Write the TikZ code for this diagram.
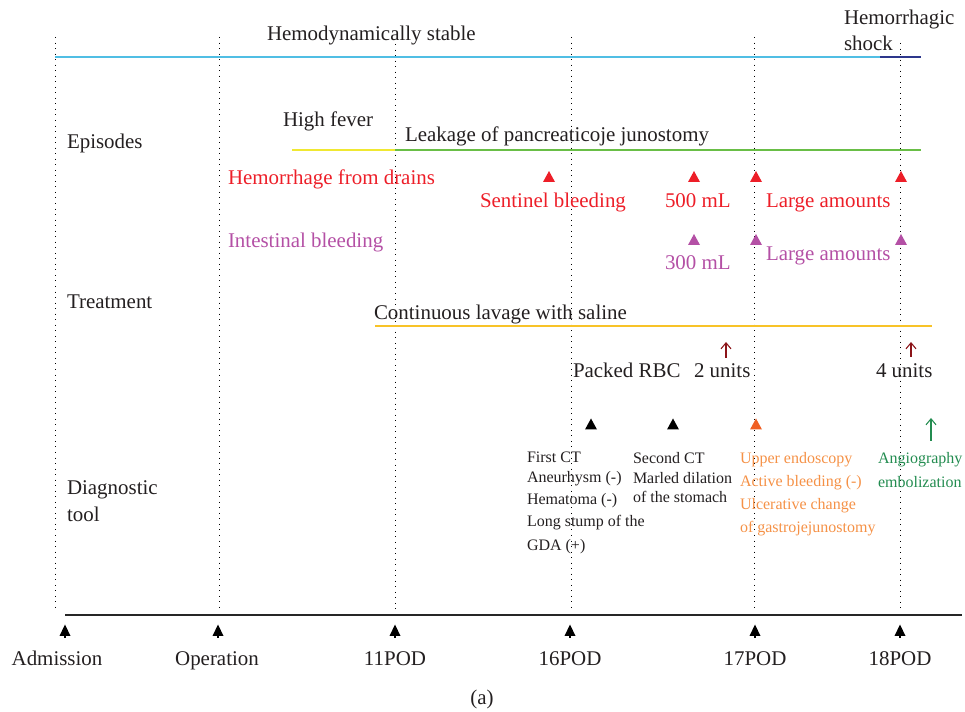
\documentclass[tikz,border=0pt]{standalone}
\usepackage{fontspec}
\setmainfont{Liberation Serif}
\usetikzlibrary{arrows.meta}
\definecolor{cblue}{RGB}{80,190,228}
\definecolor{cnavy}{RGB}{45,55,140}
\definecolor{cyel}{RGB}{240,232,50}
\definecolor{cgreen}{RGB}{105,190,70}
\definecolor{cred}{RGB}{237,30,40}
\definecolor{cpurp}{RGB}{180,80,165}
\definecolor{corl}{RGB}{248,195,40}
\definecolor{cdred}{RGB}{140,20,25}
\definecolor{cortx}{RGB}{245,145,70}
\definecolor{cortri}{RGB}{240,95,35}
\definecolor{cgtx}{RGB}{35,140,80}
\definecolor{ctext}{RGB}{35,31,32}
\begin{document}
\begin{tikzpicture}[x=0.75pt,y=-0.75pt,
  lbl/.style={anchor=base west,inner sep=0,outer sep=0,font=\fontsize{15.7}{18}\selectfont,text=ctext},
  clbl/.style={lbl,anchor=base},
  sml/.style={anchor=base west,inner sep=0,outer sep=0,font=\fontsize{12}{14}\selectfont,text=ctext},
  vdot/.style={line width=0.75pt,dash pattern=on 0.75pt off 3.4pt,black},
  bar/.style={line width=1.4pt},
  axisline/.style={line width=1.7pt,black!85},
  uparrow/.style={line width=0.8pt,-{Straight Barb[length=4.5pt,width=7.5pt]}},
  uptri/.pic={\fill (-6,5.5) -- (0,-5.5) -- (6,5.5) -- cycle;},
  axtri/.pic={\fill (-5.5,5) -- (0,-6.5) -- (5.5,5) -- cycle; \fill (-1,4) rectangle (1,7);}
]
\useasboundingbox (0,0) rectangle (965,712);

% vertical dotted guides
\foreach \n/\x/\t in {a/55/37,b/219/37,c/395/44,d/571/37,e/754/37,f/900/43}{
  \coordinate (v\n t) at (\x,\t);
  \coordinate (v\n b) at (\x,612);
  \draw[vdot] (v\n t) -- (v\n b);
}

% top state line
\coordinate (hs0) at (55,57);
\coordinate (hs1) at (880,57);
\coordinate (hs2) at (921,57);
\draw[bar,cblue] (hs0) -- (hs1);
\draw[bar,cnavy] (hs1) -- (hs2);
\node[lbl] (hstab) at (267,40.5) {Hemodynamically stable};
\node[lbl] (hshock1) at (844,24.5) {Hemorrhagic};
\node[lbl] (hshock2) at (844,51) {shock};

% episodes
\node[lbl] (episodes) at (67,149) {Episodes};
\node[lbl] (fever) at (283,126.5) {High fever};
\node[lbl] (leak) at (405,141.5) {Leakage of pancreaticoje junostomy};
\coordinate (ep0) at (292,150);
\coordinate (ep1) at (395,150);
\coordinate (ep2) at (921,150);
\draw[bar,cyel] (ep0) -- (ep1);
\draw[bar,cgreen] (ep1) -- (ep2);

\node[lbl,text=cred] (hdrain) at (228,185) {Hemorrhage from drains};
\foreach \x in {549,694,756,901}{ \pic[cred] at (\x,176.5) {uptri}; }
\node[lbl,text=cred] (sentinel) at (480,208) {Sentinel bleeding};
\node[lbl,text=cred] (ml500) at (665,208) {500 mL};
\node[lbl,text=cred] (large1) at (766,208) {Large amounts};

\node[lbl,text=cpurp] (intest) at (228,248) {Intestinal bleeding};
\foreach \x in {694,756,901}{ \pic[cpurp] at (\x,239.5) {uptri}; }
\node[lbl,text=cpurp] (ml300) at (665,270) {300 mL};
\node[lbl,text=cpurp] (large2) at (766,261) {Large amounts};

% treatment
\node[lbl] (treat) at (67,309) {Treatment};
\node[lbl] (lavage) at (374,319.5) {Continuous lavage with saline};
\coordinate (lv0) at (375,326);
\coordinate (lv1) at (932,326);
\draw[bar,corl] (lv0) -- (lv1);
\coordinate (ra0) at (726,358);
\coordinate (ra1) at (726,342);
\coordinate (rb0) at (911,357);
\coordinate (rb1) at (911,342);
\draw[uparrow,cdred] (ra0) -- (ra1);
\draw[uparrow,cdred] (rb0) -- (rb1);
\node[lbl] (prbc) at (573,378) {Packed RBC};
\node[lbl] (u2) at (694,378) {2 units};
\node[lbl] (u4) at (876,378) {4 units};

% diagnostic tool
\node[lbl] (diag1) at (67,495) {Diagnostic};
\node[lbl] (diag2) at (67,522) {tool};
\pic[black] at (591,424) {uptri};
\pic[black] at (673,424) {uptri};
\pic[cortri] at (756,424) {uptri};
\coordinate (ga0) at (931,441);
\coordinate (ga1) at (931,418);
\draw[uparrow,cgtx] (ga0) -- (ga1);

\node[sml] (ct1a) at (527,463) {First CT};
\node[sml] (ct1b) at (527,483) {Aneurhysm (-)};
\node[sml] (ct1c) at (527,505) {Hematoma (-)};
\node[sml] (ct1d) at (527,527) {Long stump of the};
\node[sml] (ct1e) at (527,551) {GDA (+)};

\node[sml] (ct2a) at (633,464) {Second CT};
\node[sml] (ct2b) at (633,484) {Marled dilation};
\node[sml] (ct2c) at (633,503) {of the stomach};

\node[sml,text=cortx] (ue1) at (740,464) {Upper endoscopy};
\node[sml,text=cortx] (ue2) at (740,487) {Active bleeding (-)};
\node[sml,text=cortx] (ue3) at (740,510) {Ulcerative change};
\node[sml,text=cortx] (ue4) at (740,533) {of gastrojejunostomy};

\node[sml,text=cgtx] (ag1) at (878,464) {Angiography};
\node[sml,text=cgtx] (ag2) at (878,488) {embolization};

% time axis
\coordinate (ax0) at (65,615);
\coordinate (ax1) at (962,615);
\draw[axisline] (ax0) -- (ax1);
\foreach \x in {65,218,395,570,755,900}{ \pic[black] at (\x,631) {axtri}; }
\node[clbl] (tadm) at (57,666) {Admission};
\node[clbl] (top) at (217,666) {Operation};
\node[clbl] (t11) at (395,666) {11POD};
\node[clbl] (t16) at (570,666) {16POD};
\node[clbl] (t17) at (755,666) {17POD};
\node[clbl] (t18) at (900,666) {18POD};
\node[clbl] (cap) at (482,705) {(a)};
\end{tikzpicture}
\end{document}
